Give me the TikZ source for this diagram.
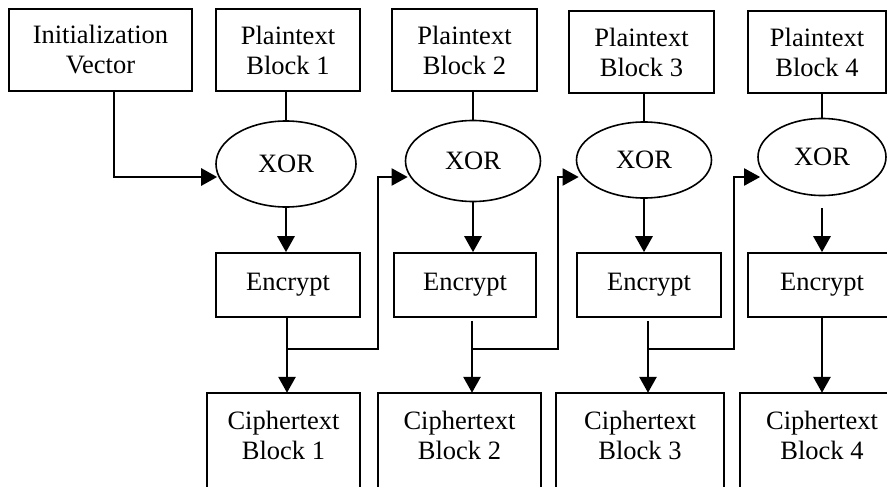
\documentclass[tikz,border=0pt]{standalone}
\usepackage{fontspec}
\setmainfont{Liberation Serif}
\usetikzlibrary{shapes.geometric,arrows.meta}
\begin{document}
\begin{tikzpicture}[x=1pt,y=-1pt,
  txt/.style={font=\fontsize{26.5}{30}\selectfont},
  box/.style={draw,line width=1.6pt,inner sep=0pt,align=center,txt},
  xorn/.style={draw,ellipse,line width=1.6pt,inner sep=0pt,txt},
  ctext/.style={inner sep=0pt,align=center,txt},
  boxline/.style={line width=1.6pt},
  plainline/.style={line width=1.6pt},
  arr/.style={line width=2.8pt,-{Triangle[width=17pt,length=16pt]}},
  fbarr/.style={line width=2pt,-{Triangle[width=17pt,length=16pt]}}]
\useasboundingbox (0,0) rectangle (887,487);
% top row
\node[box,minimum width=183pt,minimum height=82pt] (iv) at (100.5,50) {Initialization\\Vector};
\node[box,minimum width=144pt,minimum height=82pt] (p1) at (288,50) {Plaintext\\Block 1};
\node[box,minimum width=145pt,minimum height=82pt] (p2) at (464.5,50) {Plaintext\\Block 2};
\node[box,minimum width=145pt,minimum height=82pt] (p3) at (641.5,52) {Plaintext\\Block 3};
\node[box,minimum width=138pt,minimum height=82pt] (p4) at (817,52) {Plaintext\\Block 4};
% XOR
\node[xorn,minimum width=140pt,minimum height=86pt] (x1) at (286,164) {XOR};
\node[xorn,minimum width=135pt,minimum height=81pt] (x2) at (473,161) {XOR};
\node[xorn,minimum width=135pt,minimum height=76pt] (x3) at (644,160) {XOR};
\node[xorn,minimum width=128pt,minimum height=77pt] (x4) at (822,157) {XOR};
% Encrypt
\node[box,minimum width=144pt,minimum height=64pt] (e1) at (288,285) {Encrypt};
\node[box,minimum width=142pt,minimum height=64pt] (e2) at (465,285) {Encrypt};
\node[box,minimum width=144pt,minimum height=64pt] (e3) at (649,285) {Encrypt};
\node[box,minimum width=148pt,minimum height=64pt] (e4) at (822,285) {Encrypt};
% Ciphertext
\node[ctext,minimum width=153pt,minimum height=84pt] (c1) at (283.5,435) {Ciphertext\\Block 1};
\node[ctext,minimum width=163pt,minimum height=84pt] (c2) at (459.5,435) {Ciphertext\\Block 2};
\node[ctext,minimum width=168pt,minimum height=84pt] (c3) at (640,435) {Ciphertext\\Block 3};
\node[ctext,minimum width=164pt,minimum height=84pt] (c4) at (822,435) {Ciphertext\\Block 4};
\foreach \c in {c1,c2,c3,c4}{
  \draw[boxline] (\c.north west) ++(0,120) -- (\c.north west) -- (\c.north east) -- ++(0,120);
}
% plaintext to XOR
\foreach \p/\x in {p1/x1,p2/x2,p3/x3,p4/x4}{
  \draw[plainline] (\x.north) -- (\x.north |- \p.south);
}
% IV to XOR1
\coordinate (ivs) at (114,91);
\coordinate (ivc) at (114,177);
\draw[arr] (ivs) -- (ivc) -- ([xshift=2pt]ivc -| x1.west);
% XOR to Encrypt
\draw[arr] (x1.south) -- (x1.south |- e1.north);
\draw[arr] (x2.south) -- (x2.south |- e2.north);
\draw[arr] (x3.south) -- (x3.south |- e3.north);
\draw[arr] ([yshift=-12pt]x4.south) -- (x4.south |- e4.north);
% Encrypt to Ciphertext
\draw[arr] (e1.south -| 287,0) -- (287,0 |- c1.north);
\draw[arr] ([yshift=-3pt]e2.south -| 472,0) -- (472,0 |- c2.north);
\draw[arr] ([yshift=-3pt]e3.south -| 648,0) -- (648,0 |- c3.north);
\draw[arr] (e4.south) -- (e4.south |- c4.north);
% feedback
\coordinate (b1) at (287,349); \coordinate (k1) at (378,349); \coordinate (u1) at (378,177);
\coordinate (b2) at (472,349); \coordinate (k2) at (558,349); \coordinate (u2) at (558,177);
\coordinate (b3) at (648,349); \coordinate (k3) at (734,349); \coordinate (u3) at (734,177);
\draw[fbarr] (b1) -- (k1) -- (u1) -- ([xshift=3pt]u1 -| x2.west);
\draw[fbarr] (b2) -- (k2) -- (u2) -- ([xshift=3pt]u2 -| x3.west);
\draw[fbarr] (b3) -- (k3) -- (u3) -- ([xshift=3pt]u3 -| x4.west);
\end{tikzpicture}
\end{document}
